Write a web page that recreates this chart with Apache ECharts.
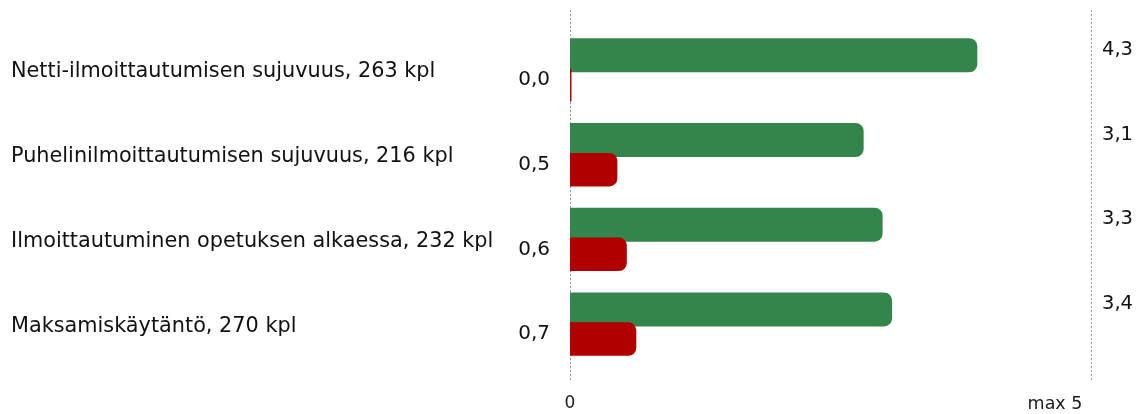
<!DOCTYPE html>
<html>
<head>
<meta charset="utf-8">
<script src="https://cdn.jsdelivr.net/npm/echarts@6/dist/echarts.min.js"></script>
<style>
html,body{margin:0;padding:0;background:#fff;}
#chart{width:1144px;height:414px;}
</style>
</head>
<body>
<div id="chart"></div>
<script>
var categories = [
  'Netti-ilmoittautumisen sujuvuus',
  'Puhelinilmoittautumisen sujuvuus',
  'Ilmoittautuminen opetuksen alkaessa',
  'Maksamiskäytäntö'
];
var counts = [263, 216, 232, 270];
var greenValues = [4.3, 3.1, 3.3, 3.4];
var redValues = [0.0, 0.5, 0.6, 0.7];
var axisMax = 5.5;
var maxLabel = 'max 5';

function fmt(v) { return Number(v).toFixed(1).replace('.', ','); }

var labels = categories.map(function (c, i) { return c + ', ' + counts[i] + ' kpl'; });
var FONT = 'DejaVu Sans';

var chart = echarts.init(document.getElementById('chart'), null, { renderer: 'canvas' });
chart.setOption({
  animation: false,
  backgroundColor: '#ffffff',
  grid: [
    { left: 570, right: 53, top: 27.6, bottom: 47.5 },
    { left: 570, right: 53, top: 10, bottom: 34 }
  ],
  xAxis: [
    { type: 'value', gridIndex: 0, min: 0, max: axisMax, show: false },
    {
      type: 'value', gridIndex: 1, min: 0, max: axisMax, interval: axisMax,
      axisLine: { show: false }, axisTick: { show: false },
      splitLine: { show: true, lineStyle: { color: '#999999', width: 1, type: [2, 2] } },
      axisLabel: {
        margin: 15,
        fontFamily: FONT, fontSize: 17, color: '#1a1a1a',
        formatter: function (v) { return v === 0 ? '0' : '{m|' + maxLabel + '}'; },
        rich: { m: { fontFamily: FONT, fontSize: 17.5, color: '#1a1a1a', padding: [0, 72, 0, 0] } }
      }
    }
  ],
  yAxis: [
    {
      type: 'category', gridIndex: 0, data: labels, inverse: true, position: 'left',
      axisLine: { show: false }, axisTick: { show: false }, splitLine: { show: false },
      axisLabel: {
        align: 'left', margin: 559,
        formatter: function (v) { return '{t|' + v + '}'; },
        rich: { t: { fontFamily: FONT, fontSize: 20.8, color: '#111', padding: [4, 0, 0, 0] } }
      }
    },
    {
      type: 'category', gridIndex: 0, data: labels, inverse: true, position: 'right',
      axisLine: { show: false }, axisTick: { show: false }, splitLine: { show: false },
      axisLabel: {
        align: 'left', margin: 11,
        formatter: function (v, i) { return '{g|' + fmt(greenValues[i]) + '}'; },
        rich: { g: { fontFamily: FONT, fontSize: 19.5, color: '#111', padding: [0, 0, 40, 0] } }
      }
    },
    { type: 'value', gridIndex: 1, show: false, min: 0, max: 1 }
  ],
  series: [
    {
      type: 'bar', xAxisIndex: 0, yAxisIndex: 0, data: greenValues,
      barWidth: 34, barGap: '-12%',
      itemStyle: { color: '#33854b', borderRadius: [0, 8, 8, 0] },
      silent: true
    },
    {
      type: 'bar', xAxisIndex: 0, yAxisIndex: 0, data: redValues,
      barWidth: 33.5, barMinHeight: 1.5,
      itemStyle: { color: '#b00000', borderRadius: [0, 8, 8, 0] },
      label: {
        show: true, position: 'left', distance: 20, offset: [0, -5],
        fontFamily: FONT, fontSize: 20, color: '#111',
        formatter: function (p) { return fmt(p.value); }
      },
      silent: true
    }
  ]
});
</script>
</body>
</html>
